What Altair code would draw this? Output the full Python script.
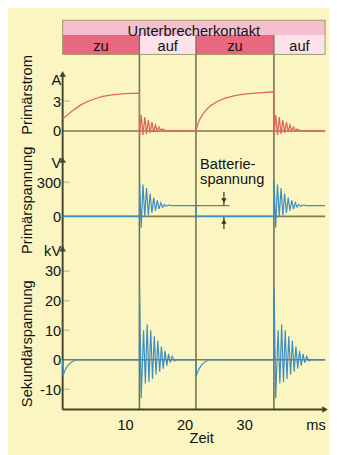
import altair as alt
import pandas as pd

# ---------------- data ----------------
T_MIN, T_MAX = -0.5, 43.6            # time axis range (ms)
switch_t = [12.4, 21.9, 35.0]        # contact opens, closes, opens (ms)
phase_start = [-0.5, 12.4, 21.9, 35.0]
phase_end = [12.4, 21.9, 35.0, 43.6]
phase_label = ["zu", "auf", "zu", "auf"]
header_title = "Unterbrecherkontakt"

# Primärstrom (A)
rise1_t = [-0.5, 0.16, 0.98, 1.8, 2.62, 3.77, 4.92, 6.2, 7.9, 9.8, 12.4]
rise1_a = [1.23, 1.52, 1.96, 2.30, 2.65, 2.99, 3.24, 3.48, 3.63, 3.75, 3.81]
rise2_t = [21.9, 22.2, 22.5, 23.0, 23.6, 24.4, 25.4, 26.7, 28.4, 30.3, 32.5, 35.0]
rise2_a = [0, 0.64, 1.13, 1.62, 2.11, 2.55, 2.94, 3.28, 3.55, 3.73, 3.84, 3.94]
cur_ring_dt = [0.03, 0.3, 0.6, 0.9, 1.2, 1.5, 1.8, 2.1, 2.4, 2.7, 3.0, 3.3, 3.6, 3.9, 4.3, 4.8]
cur_ring_a = [-0.5, 1.6, -0.4, 1.4, -0.3, 1.1, -0.2, 0.9, -0.1, 0.6, 0.0, 0.4, 0.05, 0.2, 0.05, 0]

# Primärspannung (V)
u1_ring_dt = [0.03, 0.3, 0.6, 0.9, 1.2, 1.5, 1.8, 2.1, 2.4, 2.7, 3.0, 3.3, 3.6, 3.9, 4.2, 4.5, 4.9, 5.4]
u1_ring_v = [310, -100, 280, 0, 250, 10, 200, 30, 165, 50, 140, 65, 120, 80, 105, 88, 100, 95]
battery_v = 95

# Sekundärspannung (kV)
u2_ring_dt = [0.03, 0.3, 0.7, 1.0, 1.3, 1.6, 1.9, 2.2, 2.5, 2.8, 3.1, 3.4, 3.7, 4.0, 4.3, 4.6, 4.9, 5.2, 5.5, 5.9, 6.3]
u2_ring_kv = [24, -13, 10, -8, 12, -7.5, 10, -6.5, 8, -5, 6.5, -4, 4.5, -3, 3, -2, 2, -1, 1.2, -0.4, 0]
u2_close_dt = [0.05, 0.4, 0.9, 1.5, 2.2]
u2_close_kv = [-5.5, -3.5, -1.8, -0.7, 0]

# axis ticks / unit label positions
i_ticks, i_unit = [0, 3], 5.15
u1_ticks, u1_unit = [0, 300], 471
u2_ticks, u2_unit = [-10, 0, 10, 20, 30], 37.0
t_ticks, t_unit = [10, 20, 30], 42.0

# ---------------- build tables ----------------
t_open1, t_close2, t_open2 = switch_t


def table(points):
    return pd.DataFrame({"t": [p[0] for p in points],
                         "v": [p[1] for p in points],
                         "k": list(range(len(points)))})


cur = list(zip(rise1_t, rise1_a))
cur += [(t_open1 + d, a) for d, a in zip(cur_ring_dt, cur_ring_a)]
cur += list(zip(rise2_t, rise2_a))
cur += [(t_open2 + d, a) for d, a in zip(cur_ring_dt, cur_ring_a)]
cur += [(T_MAX, 0)]

u1 = [(T_MIN, 0), (t_open1, 0)]
u1 += [(t_open1 + d, v) for d, v in zip(u1_ring_dt, u1_ring_v)]
u1 += [(t_close2, battery_v), (t_close2 + 0.05, 0), (t_open2, 0)]
u1 += [(t_open2 + d, v) for d, v in zip(u1_ring_dt, u1_ring_v)]
u1 += [(T_MAX, battery_v)]

u2 = [(T_MIN, 0)] + [(T_MIN + d, v) for d, v in zip(u2_close_dt, u2_close_kv)]
u2 += [(t_open1, 0)] + [(t_open1 + d, v) for d, v in zip(u2_ring_dt, u2_ring_kv)]
u2 += [(t_close2, 0)] + [(t_close2 + d, v) for d, v in zip(u2_close_dt, u2_close_kv)]
u2 += [(t_open2, 0)] + [(t_open2 + d, v) for d, v in zip(u2_ring_dt, u2_ring_kv)]
u2 += [(T_MAX, 0)]

# ---------------- style ----------------
FONT = "Liberation Sans"
BG = "#fbf6c1"
ROW1 = "#f5bfd0"
ZU = "#e8687f"
AUF = "#fde2ea"
GUIDE = "#6f7155"
ZERO = "#7f7b4a"
AXISC = "#45452d"
TICKC = "#c9c598"
RED = "#e0665c"
BLUE = "#3f8cc0"
TXT = "#111111"
W = 269
H_HEAD, H1, H2, H3 = 35, 96, 98, 170
ydom1 = [-1.72, 7.70]
ydom2 = [-240, 600]
ydom3 = [-16.83, 39.27]
TICK_LEN = 1.2   # inward tick dash length (ms units)

xs = alt.Scale(domain=[T_MIN, T_MAX], nice=False, zero=False)


def yaxis(values, unit_v, unit, title, title_y):
    return alt.Axis(values=values + [unit_v],
                    labelExpr=f"datum.value == {unit_v} ? '{unit}' : datum.value + ''",
                    title=title, titleX=-32, titleY=title_y, titleAngle=270,
                    titleBaseline="alphabetic", titleAlign="center",
                    titleFontSize=15, titleFontWeight="normal", titleColor=TXT,
                    titleFont=FONT, labelFont=FONT, labelFontSize=15, labelColor=TXT,
                    labelPadding=2, labelBaseline="middle", labelAlign="right",
                    labelOverlap=False, ticks=False, tickSize=0, domain=False, grid=False)


xaxis = alt.Axis(values=t_ticks + [t_unit],
                 labelExpr=f"datum.value == {t_unit} ? 'ms' : datum.value + ''",
                 title="Zeit", titleX=142, titleY=34, titleBaseline="alphabetic", titleAlign="center",
                 titleFontSize=15, titleFontWeight="normal", titleColor=TXT, titleFont=FONT,
                 labelFont=FONT, labelFontSize=15, labelColor=TXT, labelBaseline="alphabetic",
                 labelPadding=20, labelFlush=False, labelOverlap=False,
                 ticks=False, tickSize=0, domain=False, grid=False)


def make_enc(ydom, yax, xax):
    """Every layer of a panel carries the same axis definition (None only where no axis)."""
    ys = alt.Scale(domain=ydom, nice=False, zero=False)
    X = lambda f: alt.X(f, scale=xs, axis=xax)
    Y = lambda f: alt.Y(f, scale=ys, axis=yax)
    return X, Y


def common_layers(X, Y, H, arrow_v, axis_bottom, axis_top, ticks):
    tk = [v for v in ticks if v != 0]
    tick_df = pd.DataFrame({"t0": [T_MIN] * len(tk), "t1": [T_MIN + TICK_LEN] * len(tk), "v": tk})
    dashes = alt.Chart(tick_df).mark_rule(color=TICKC, strokeWidth=1.5).encode(
        x=X("t0:Q"), x2="t1:Q", y=Y("v:Q"))
    zero = alt.Chart(pd.DataFrame({"t0": [T_MIN], "t1": [T_MAX], "v": [0]})).mark_rule(
        color=ZERO, strokeWidth=1.6).encode(x=X("t0:Q"), x2="t1:Q", y=Y("v:Q"))
    vlines = alt.Chart(pd.DataFrame({"t": switch_t})).mark_rule(
        color=GUIDE, strokeWidth=1.6).encode(x=X("t:Q"), y=alt.value(0), y2=alt.value(H))
    yline = alt.Chart(pd.DataFrame({"t": [T_MIN], "v": [axis_bottom], "v1": [axis_top]})).mark_rule(
        color=AXISC, strokeWidth=2).encode(x=X("t:Q"), y=Y("v:Q"), y2="v1:Q")
    arrow = alt.Chart(pd.DataFrame({"t": [T_MIN], "v": [arrow_v]})).mark_point(
        shape="triangle-up", filled=True, size=45, color=AXISC, opacity=1).encode(
        x=X("t:Q"), y=Y("v:Q"))
    return [dashes, zero, vlines, yline, arrow]


# ---------------- header ----------------
Xh = lambda f: alt.X(f, scale=xs, axis=None)
hdr1 = pd.DataFrame({"start": [T_MIN], "end": [T_MAX], "label": [header_title]})
phases = pd.DataFrame({"start": phase_start, "end": phase_end, "label": phase_label})
h_row1 = alt.Chart(hdr1).mark_rect(color=ROW1).encode(
    x=Xh("start:Q"), x2="end:Q", y=alt.value(0), y2=alt.value(15))
h_row2 = alt.Chart(phases).mark_rect().encode(
    x=Xh("start:Q"), x2="end:Q", y=alt.value(15), y2=alt.value(H_HEAD),
    color=alt.Color("label:N", scale=alt.Scale(domain=["zu", "auf"], range=[ZU, AUF]), legend=None))
h_sep = alt.Chart(pd.DataFrame({"t": switch_t})).mark_rule(color=GUIDE, strokeWidth=1.2).encode(
    x=Xh("t:Q"), y=alt.value(15), y2=alt.value(H_HEAD))
h_box = alt.Chart(hdr1).mark_rect(fillOpacity=0, stroke="#9c9a6a", strokeWidth=1).encode(
    x=Xh("start:Q"), x2="end:Q", y=alt.value(0), y2=alt.value(H_HEAD))
h_txt1 = alt.Chart(hdr1).transform_calculate(mid="(datum.start + datum.end) / 2").mark_text(
    font=FONT, fontSize=15, color=TXT, baseline="alphabetic", align="center").encode(
    x=Xh("mid:Q"), y=alt.value(16), text="label:N")
h_txt2 = alt.Chart(phases).transform_calculate(mid="(datum.start + datum.end) / 2").mark_text(
    font=FONT, fontSize=15, color=TXT, baseline="alphabetic", align="center").encode(
    x=Xh("mid:Q"), y=alt.value(32), text="label:N")
header = alt.layer(h_row1, h_row2, h_sep, h_box, h_txt1, h_txt2).properties(width=W, height=H_HEAD)

# ---------------- Primärstrom ----------------
X1, Y1 = make_enc(ydom1, yaxis(i_ticks, i_unit, "A", "Primärstrom", 41), None)
l1 = common_layers(X1, Y1, H1, 5.74, ydom1[0], 5.74, i_ticks)
sig1 = alt.Chart(table(cur)).mark_line(color=RED, strokeWidth=1.3).encode(
    x=X1("t:Q"), y=Y1("v:Q"), order="k:Q")
p1 = alt.layer(*l1, sig1).properties(width=W, height=H1)

# ---------------- Primärspannung ----------------
X2, Y2 = make_enc(ydom2, yaxis(u1_ticks, u1_unit, "V", "Primärspannung", 53), None)
l2 = common_layers(X2, Y2, H2, 497, ydom2[0], ydom2[1], u1_ticks)
bat_line = alt.Chart(pd.DataFrame({"t0": [21.9], "t1": [27.5], "v": [battery_v]})).mark_rule(
    color=ZERO, strokeWidth=1.3).encode(x=X2("t0:Q"), x2="t1:Q", y=Y2("v:Q"))
dim = alt.Chart(pd.DataFrame({"t": [26.6, 26.6], "v": [214, 0], "v1": [battery_v, -111]})).mark_rule(
    color="#333322", strokeWidth=1.2).encode(x=X2("t:Q"), y=Y2("v:Q"), y2="v1:Q")
dim_up = alt.Chart(pd.DataFrame({"t": [26.6], "v": [-45]})).mark_point(
    shape="triangle-up", filled=True, size=30, color="#333322", opacity=1).encode(x=X2("t:Q"), y=Y2("v:Q"))
dim_dn = alt.Chart(pd.DataFrame({"t": [26.6], "v": [140]})).mark_point(
    shape="triangle-down", filled=True, size=30, color="#333322", opacity=1).encode(x=X2("t:Q"), y=Y2("v:Q"))
bat_txt = alt.Chart(pd.DataFrame({"t": [22.6, 22.6], "v": [457, 326],
                                  "txt": ["Batterie-", "spannung"]})).mark_text(
    font=FONT, fontSize=15, color=TXT, align="left", baseline="middle").encode(
    x=X2("t:Q"), y=Y2("v:Q"), text="txt:N")
sig2 = alt.Chart(table(u1)).mark_line(color=BLUE, strokeWidth=1.2).encode(
    x=X2("t:Q"), y=Y2("v:Q"), order="k:Q")
p2 = alt.layer(*l2, bat_line, dim, dim_up, dim_dn, sig2, bat_txt).properties(width=W, height=H2)

# ---------------- Sekundärspannung ----------------
X3, Y3 = make_enc(ydom3, yaxis(u2_ticks, u2_unit, "kV", "Sekundärspannung", 102), xaxis)
l3 = common_layers(X3, Y3, H3, 37.6, ydom3[0], ydom3[1], u2_ticks)
xline = alt.Chart(pd.DataFrame({"t0": [T_MIN], "t1": [T_MAX], "v": [ydom3[0]]})).mark_rule(
    color=AXISC, strokeWidth=2).encode(x=X3("t0:Q"), x2="t1:Q", y=Y3("v:Q"))
xarrow = alt.Chart(pd.DataFrame({"t": [T_MAX], "v": [ydom3[0]]})).mark_point(
    shape="triangle-right", filled=True, size=45, color=AXISC, opacity=1).encode(x=X3("t:Q"), y=Y3("v:Q"))
sig3 = alt.Chart(table(u2)).mark_line(color=BLUE, strokeWidth=1.2).encode(
    x=X3("t:Q"), y=Y3("v:Q"), order="k:Q")
p3 = alt.layer(*l3, xline, xarrow, sig3).properties(width=W, height=H3)

chart = alt.vconcat(header, p1, p2, p3, spacing=0, bounds="flush").properties(
    padding={"left": 11, "top": 6, "right": 1, "bottom": 4}
).configure(font=FONT, background=BG).configure_view(strokeWidth=0)

chart.save("out.html", embed_options={"renderer": "svg", "actions": False})
